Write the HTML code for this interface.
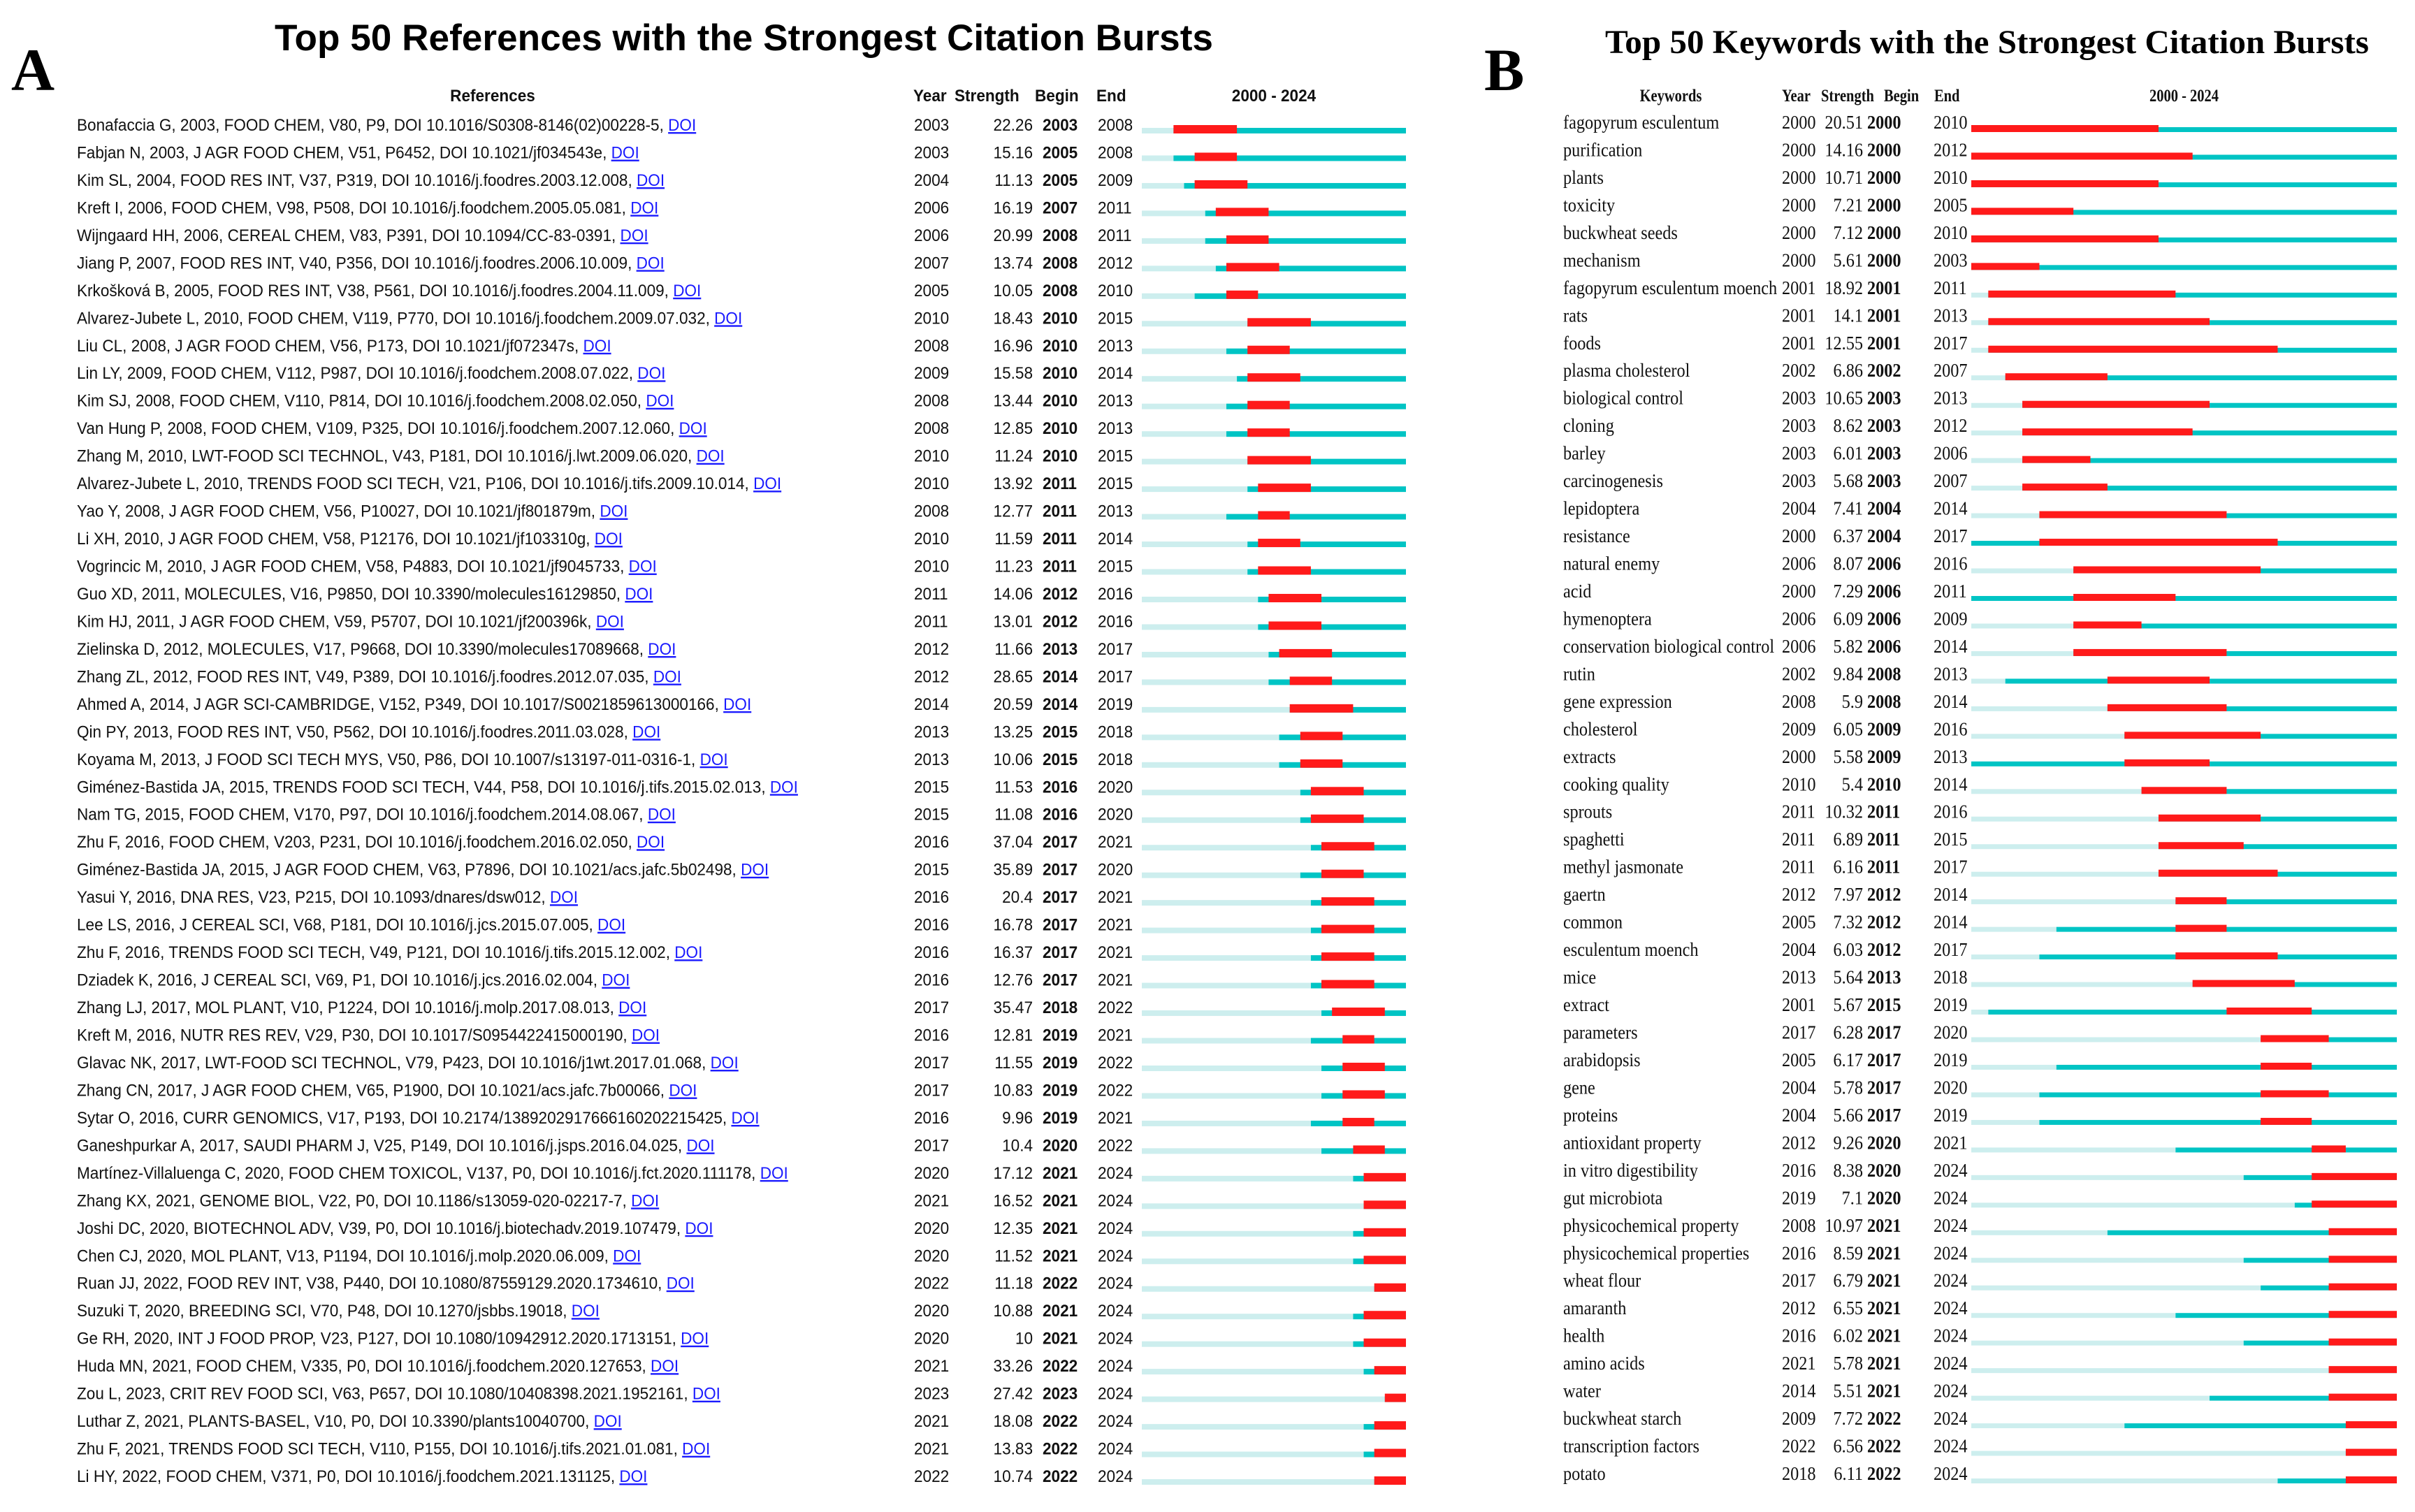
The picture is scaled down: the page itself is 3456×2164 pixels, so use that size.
<!DOCTYPE html>
<html><head><meta charset="utf-8"><style>
html,body{margin:0;padding:0;background:#fff;}
svg{display:block;}
</style></head><body>
<svg id="fig" width="3456" height="2164" viewBox="0 0 3456 2164" xmlns="http://www.w3.org/2000/svg">
<rect width="3456" height="2164" fill="#fff"/>
<text x="16" y="129" font-family="Liberation Serif, serif" font-weight="bold" font-size="86">A</text>
<text x="393" y="72" textLength="1343" lengthAdjust="spacingAndGlyphs" font-family="Liberation Sans, sans-serif" font-weight="bold" font-size="53">Top 50 References with the Strongest Citation Bursts</text>
<text x="2124" y="129" font-family="Liberation Serif, serif" font-weight="bold" font-size="86">B</text>
<text x="2297" y="76" textLength="1093" lengthAdjust="spacingAndGlyphs" font-family="Liberation Serif, serif" font-weight="bold" font-size="48">Top 50 Keywords with the Strongest Citation Bursts</text>
<g id="ga"></g>
<g id="gb"></g>
</svg>
<script>
const refNames = ["Bonafaccia G, 2003, FOOD CHEM, V80, P9, DOI 10.1016/S0308-8146(02)00228-5,","Fabjan N, 2003, J AGR FOOD CHEM, V51, P6452, DOI 10.1021/jf034543e,","Kim SL, 2004, FOOD RES INT, V37, P319, DOI 10.1016/j.foodres.2003.12.008,","Kreft I, 2006, FOOD CHEM, V98, P508, DOI 10.1016/j.foodchem.2005.05.081,","Wijngaard HH, 2006, CEREAL CHEM, V83, P391, DOI 10.1094/CC-83-0391,","Jiang P, 2007, FOOD RES INT, V40, P356, DOI 10.1016/j.foodres.2006.10.009,","Krkošková B, 2005, FOOD RES INT, V38, P561, DOI 10.1016/j.foodres.2004.11.009,","Alvarez-Jubete L, 2010, FOOD CHEM, V119, P770, DOI 10.1016/j.foodchem.2009.07.032,","Liu CL, 2008, J AGR FOOD CHEM, V56, P173, DOI 10.1021/jf072347s,","Lin LY, 2009, FOOD CHEM, V112, P987, DOI 10.1016/j.foodchem.2008.07.022,","Kim SJ, 2008, FOOD CHEM, V110, P814, DOI 10.1016/j.foodchem.2008.02.050,","Van Hung P, 2008, FOOD CHEM, V109, P325, DOI 10.1016/j.foodchem.2007.12.060,","Zhang M, 2010, LWT-FOOD SCI TECHNOL, V43, P181, DOI 10.1016/j.lwt.2009.06.020,","Alvarez-Jubete L, 2010, TRENDS FOOD SCI TECH, V21, P106, DOI 10.1016/j.tifs.2009.10.014,","Yao Y, 2008, J AGR FOOD CHEM, V56, P10027, DOI 10.1021/jf801879m,","Li XH, 2010, J AGR FOOD CHEM, V58, P12176, DOI 10.1021/jf103310g,","Vogrincic M, 2010, J AGR FOOD CHEM, V58, P4883, DOI 10.1021/jf9045733,","Guo XD, 2011, MOLECULES, V16, P9850, DOI 10.3390/molecules16129850,","Kim HJ, 2011, J AGR FOOD CHEM, V59, P5707, DOI 10.1021/jf200396k,","Zielinska D, 2012, MOLECULES, V17, P9668, DOI 10.3390/molecules17089668,","Zhang ZL, 2012, FOOD RES INT, V49, P389, DOI 10.1016/j.foodres.2012.07.035,","Ahmed A, 2014, J AGR SCI-CAMBRIDGE, V152, P349, DOI 10.1017/S0021859613000166,","Qin PY, 2013, FOOD RES INT, V50, P562, DOI 10.1016/j.foodres.2011.03.028,","Koyama M, 2013, J FOOD SCI TECH MYS, V50, P86, DOI 10.1007/s13197-011-0316-1,","Giménez-Bastida JA, 2015, TRENDS FOOD SCI TECH, V44, P58, DOI 10.1016/j.tifs.2015.02.013,","Nam TG, 2015, FOOD CHEM, V170, P97, DOI 10.1016/j.foodchem.2014.08.067,","Zhu F, 2016, FOOD CHEM, V203, P231, DOI 10.1016/j.foodchem.2016.02.050,","Giménez-Bastida JA, 2015, J AGR FOOD CHEM, V63, P7896, DOI 10.1021/acs.jafc.5b02498,","Yasui Y, 2016, DNA RES, V23, P215, DOI 10.1093/dnares/dsw012,","Lee LS, 2016, J CEREAL SCI, V68, P181, DOI 10.1016/j.jcs.2015.07.005,","Zhu F, 2016, TRENDS FOOD SCI TECH, V49, P121, DOI 10.1016/j.tifs.2015.12.002,","Dziadek K, 2016, J CEREAL SCI, V69, P1, DOI 10.1016/j.jcs.2016.02.004,","Zhang LJ, 2017, MOL PLANT, V10, P1224, DOI 10.1016/j.molp.2017.08.013,","Kreft M, 2016, NUTR RES REV, V29, P30, DOI 10.1017/S0954422415000190,","Glavac NK, 2017, LWT-FOOD SCI TECHNOL, V79, P423, DOI 10.1016/j1wt.2017.01.068,","Zhang CN, 2017, J AGR FOOD CHEM, V65, P1900, DOI 10.1021/acs.jafc.7b00066,","Sytar O, 2016, CURR GENOMICS, V17, P193, DOI 10.2174/1389202917666160202215425,","Ganeshpurkar A, 2017, SAUDI PHARM J, V25, P149, DOI 10.1016/j.jsps.2016.04.025,","Martínez-Villaluenga C, 2020, FOOD CHEM TOXICOL, V137, P0, DOI 10.1016/j.fct.2020.111178,","Zhang KX, 2021, GENOME BIOL, V22, P0, DOI 10.1186/s13059-020-02217-7,","Joshi DC, 2020, BIOTECHNOL ADV, V39, P0, DOI 10.1016/j.biotechadv.2019.107479,","Chen CJ, 2020, MOL PLANT, V13, P1194, DOI 10.1016/j.molp.2020.06.009,","Ruan JJ, 2022, FOOD REV INT, V38, P440, DOI 10.1080/87559129.2020.1734610,","Suzuki T, 2020, BREEDING SCI, V70, P48, DOI 10.1270/jsbbs.19018,","Ge RH, 2020, INT J FOOD PROP, V23, P127, DOI 10.1080/10942912.2020.1713151,","Huda MN, 2021, FOOD CHEM, V335, P0, DOI 10.1016/j.foodchem.2020.127653,","Zou L, 2023, CRIT REV FOOD SCI, V63, P657, DOI 10.1080/10408398.2021.1952161,","Luthar Z, 2021, PLANTS-BASEL, V10, P0, DOI 10.3390/plants10040700,","Zhu F, 2021, TRENDS FOOD SCI TECH, V110, P155, DOI 10.1016/j.tifs.2021.01.081,","Li HY, 2022, FOOD CHEM, V371, P0, DOI 10.1016/j.foodchem.2021.131125,"];
const refYear = [2003,2003,2004,2006,2006,2007,2005,2010,2008,2009,2008,2008,2010,2010,2008,2010,2010,2011,2011,2012,2012,2014,2013,2013,2015,2015,2016,2015,2016,2016,2016,2016,2017,2016,2017,2017,2016,2017,2020,2021,2020,2020,2022,2020,2020,2021,2023,2021,2021,2022];
const refStrength = ["22.26","15.16","11.13","16.19","20.99","13.74","10.05","18.43","16.96","15.58","13.44","12.85","11.24","13.92","12.77","11.59","11.23","14.06","13.01","11.66","28.65","20.59","13.25","10.06","11.53","11.08","37.04","35.89","20.4","16.78","16.37","12.76","35.47","12.81","11.55","10.83","9.96","10.4","17.12","16.52","12.35","11.52","11.18","10.88","10","33.26","27.42","18.08","13.83","10.74"];
const refBegin = [2003,2005,2005,2007,2008,2008,2008,2010,2010,2010,2010,2010,2010,2011,2011,2011,2011,2012,2012,2013,2014,2014,2015,2015,2016,2016,2017,2017,2017,2017,2017,2017,2018,2019,2019,2019,2019,2020,2021,2021,2021,2021,2022,2021,2021,2022,2023,2022,2022,2022];
const refEnd = [2008,2008,2009,2011,2011,2012,2010,2015,2013,2014,2013,2013,2015,2015,2013,2014,2015,2016,2016,2017,2017,2019,2018,2018,2020,2020,2021,2020,2021,2021,2021,2021,2022,2021,2022,2022,2021,2022,2024,2024,2024,2024,2024,2024,2024,2024,2024,2024,2024,2024];

const kwNames = ["fagopyrum esculentum","purification","plants","toxicity","buckwheat seeds","mechanism","fagopyrum esculentum moench","rats","foods","plasma cholesterol","biological control","cloning","barley","carcinogenesis","lepidoptera","resistance","natural enemy","acid","hymenoptera","conservation biological control","rutin","gene expression","cholesterol","extracts","cooking quality","sprouts","spaghetti","methyl jasmonate","gaertn","common","esculentum moench","mice","extract","parameters","arabidopsis","gene","proteins","antioxidant property","in vitro digestibility","gut microbiota","physicochemical property","physicochemical properties","wheat flour","amaranth","health","amino acids","water","buckwheat starch","transcription factors","potato"];
const kwYear = [2000,2000,2000,2000,2000,2000,2001,2001,2001,2002,2003,2003,2003,2003,2004,2000,2006,2000,2006,2006,2002,2008,2009,2000,2010,2011,2011,2011,2012,2005,2004,2013,2001,2017,2005,2004,2004,2012,2016,2019,2008,2016,2017,2012,2016,2021,2014,2009,2022,2018];
const kwStrength = ["20.51","14.16","10.71","7.21","7.12","5.61","18.92","14.1","12.55","6.86","10.65","8.62","6.01","5.68","7.41","6.37","8.07","7.29","6.09","5.82","9.84","5.9","6.05","5.58","5.4","10.32","6.89","6.16","7.97","7.32","6.03","5.64","5.67","6.28","6.17","5.78","5.66","9.26","8.38","7.1","10.97","8.59","6.79","6.55","6.02","5.78","5.51","7.72","6.56","6.11"];
const kwBegin = [2000,2000,2000,2000,2000,2000,2001,2001,2001,2002,2003,2003,2003,2003,2004,2004,2006,2006,2006,2006,2008,2008,2009,2009,2010,2011,2011,2011,2012,2012,2012,2013,2015,2017,2017,2017,2017,2020,2020,2020,2021,2021,2021,2021,2021,2021,2021,2022,2022,2022];
const kwEnd = [2010,2012,2010,2005,2010,2003,2011,2013,2017,2007,2013,2012,2006,2007,2014,2017,2016,2011,2009,2014,2013,2014,2016,2013,2014,2016,2015,2017,2014,2014,2017,2018,2019,2020,2019,2020,2019,2021,2024,2024,2024,2024,2024,2024,2024,2024,2024,2024,2024,2024];

const NS = "http://www.w3.org/2000/svg";
const Y0 = 2000, Y1 = 2025;
function mk(tag, attrs, parent) {
  const e = document.createElementNS(NS, tag);
  for (const k in attrs) e.setAttribute(k, attrs[k]);
  parent.appendChild(e);
  return e;
}
function txt(parent, x, y, s, o) {
  const e = mk('text', {x: x, y: y, 'font-family': o.ff, 'font-size': o.fs, fill: '#111'}, parent);
  if (o.bold) e.setAttribute('font-weight', 'bold');
  if (o.anchor) e.setAttribute('text-anchor', o.anchor);
  if (o.sx) e.setAttribute('transform', 'translate(' + x + ' 0) scale(' + o.sx + ' 1) translate(' + (-x) + ' 0)');
  e.textContent = s;
  return e;
}

function drawPanel(gid, cfg, names, years, strengths, begins, ends) {
  const g = document.getElementById(gid);
  const xs = y => cfg.bx0 + (y - Y0) * (cfg.bx1 - cfg.bx0) / (Y1 - Y0);
  const rowY = i => cfg.row0 + i * cfg.dy;
  const hf = {ff: cfg.ff, fs: cfg.hfs, bold: true, sx: cfg.hsx};
  let h;
  h = txt(g, cfg.hName, 145, cfg.nameHead, Object.assign({anchor: 'middle'}, hf));
  
  
  h = txt(g, cfg.hYear, 145, 'Year', hf);
  
  
  h = txt(g, cfg.hStr, 145, 'Strength', hf);
  
  
  h = txt(g, cfg.hBeg, 145, 'Begin', hf);
  
  
  h = txt(g, cfg.hEnd, 145, 'End', hf);
  
  
  h = txt(g, (cfg.bx0 + cfg.bx1) / 2, 145, '2000 - 2024', Object.assign({anchor: 'middle'}, hf));
  
  
  const rf = {ff: cfg.ff, fs: cfg.fs, sx: cfg.sx};
  for (let i = 0; i < names.length; i++) {
    const y = rowY(i);
    const row = mk('g', {}, g);
    
    
    const t = txt(row, cfg.xName, y, names[i] + (cfg.doi ? ' ' : ''), rf);
    
    
    if (cfg.doi) {
      const d = mk('tspan', {fill: '#1a1aff', 'text-decoration': 'underline'}, t);
      
      
      d.textContent = 'DOI';
    }
    let c;
    c = txt(row, cfg.xYear, y, String(years[i]), rf);
    
    
    c = txt(row, cfg.xStr, y, strengths[i], Object.assign({anchor: 'end'}, rf));
    
    
    c = txt(row, cfg.xBeg, y, String(begins[i]), Object.assign({bold: true}, rf));
    
    
    c = txt(row, cfg.xEnd, y, String(ends[i]), rf);
    
    
    const bb = y + cfg.barOff;
    let r;
    r = mk('rect', {x: xs(Y0), y: bb - cfg.thin, width: xs(years[i]) - xs(Y0), height: cfg.thin, fill: '#cdeeee'}, row);
    
    
    r = mk('rect', {x: xs(years[i]), y: bb - cfg.thin, width: xs(Y1) - xs(years[i]), height: cfg.thin, fill: '#00c4c4'}, row);
    
    
    r = mk('rect', {x: xs(begins[i]), y: bb - cfg.thick, width: xs(ends[i] + 1) - xs(begins[i]), height: cfg.thick, fill: '#ff1a1a'}, row);
    
    
  }
}

drawPanel('ga', {ff: 'Liberation Sans, sans-serif', fs: 24, hfs: 24, sx: 0.94, hsx: 0.94, nameHead: 'References', doi: true,
  row0: 187, dy: 39.47, hName: 705, hYear: 1307, hStr: 1366, hBeg: 1481, hEnd: 1569,
  xName: 110, xYear: 1308, xStr: 1478, xBeg: 1492, xEnd: 1571, bx0: 1634, bx1: 2012,
  barOff: 4, thin: 8, thick: 12}, refNames, refYear, refStrength, refBegin, refEnd);

drawPanel('gb', {ff: 'Liberation Serif, serif', fs: 27, hfs: 25, sx: 0.9, hsx: 0.82, nameHead: 'Keywords', doi: false,
  row0: 184, dy: 39.47, hName: 2391, hYear: 2550, hStr: 2606, hBeg: 2696, hEnd: 2768,
  xName: 2237, xYear: 2550, xStr: 2666, xBeg: 2672, xEnd: 2767, bx0: 2821, bx1: 3430,
  barOff: 5, thin: 7, thick: 10}, kwNames, kwYear, kwStrength, kwBegin, kwEnd);
</script>
</body></html>
